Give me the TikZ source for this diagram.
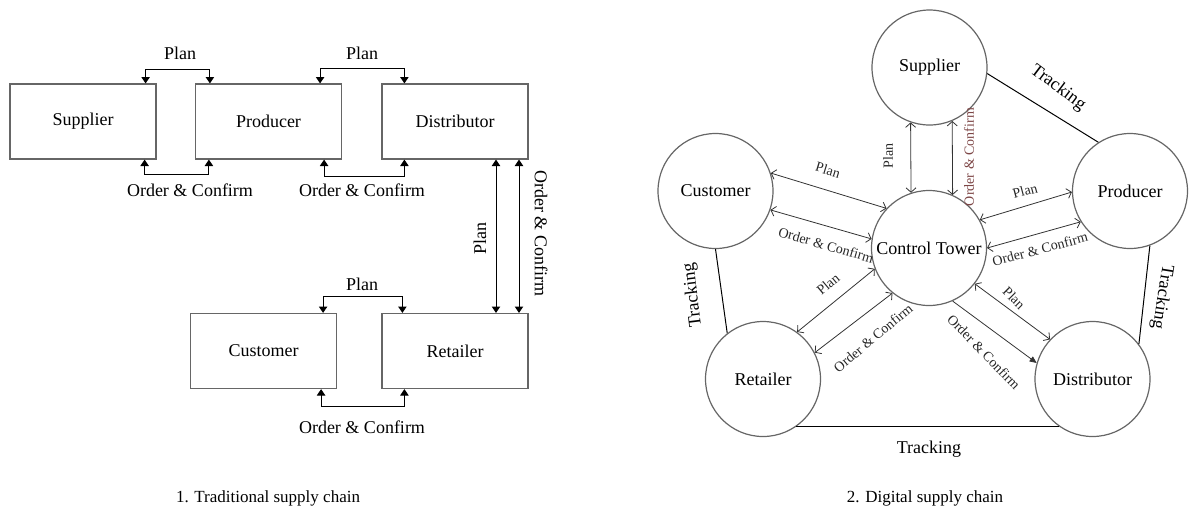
\documentclass[tikz,border=0pt]{standalone}
\usepackage{fontspec}
\setmainfont{Liberation Serif}
\usetikzlibrary{arrows.meta}
\usepackage{xcolor}
\definecolor{ocbrown}{RGB}{125,70,70}

\tikzset{
  box/.style={draw=black!60, line width=0.6pt, minimum width=73pt, minimum height=37.5pt, inner sep=0pt, font=\fontsize{9}{11}\selectfont},
  hub/.style={circle, draw=black!60, line width=0.6pt, minimum size=57.5pt, inner sep=0pt, font=\fontsize{9}{11}\selectfont},
  flow/.style={line width=0.5pt, {Triangle[length=3.2pt,width=4.2pt]}-{Triangle[length=3.2pt,width=4.2pt]}},
  link/.style={black!80, line width=0.4pt, {Straight Barb[length=2.2pt,width=5pt]}-{Straight Barb[length=2.2pt,width=5pt]}},
  track/.style={line width=0.5pt},
  lbl/.style={font=\fontsize{9}{11}\selectfont, inner sep=0pt},
  small/.style={font=\fontsize{7}{8}\selectfont, inner sep=0pt, black!85},
  caption/.style={font=\fontsize{8.5}{10}\selectfont, inner sep=0pt},
}

\begin{document}
\begin{tikzpicture}[x=0.5pt, y=-0.5pt]
\useasboundingbox (0,0) rectangle (1189,511);

% traditional chain
\node[box] (sup) at (83,121.5) {Supplier};
\node[box] (pro) at (268.5,121.5) {Producer};
\node[box] (dis) at (455,121.5) {Distributor};
\node[box] (cus) at (263.5,351) {Customer};
\node[box] (ret) at (455,351) {Retailer};

\draw[flow] ([xshift=-5.5pt]sup.north east) -- ++(0,-14) -| ([xshift=7.5pt]pro.north west);
\draw[flow] ([xshift=-6pt]sup.south east) -- ++(0,15) -| ([xshift=7pt]pro.south west);
\draw[flow] ([xshift=-11pt]pro.north east) -- ++(0,-15) -| ([xshift=11.5pt]dis.north west);
\draw[flow] ([xshift=-9pt]pro.south east) -- ++(0,17) -| ([xshift=11.5pt]dis.south west);
\draw[flow] ([xshift=-7pt]cus.north east) -- ++(0,-16) -| ([xshift=10.5pt]ret.north west);
\draw[flow] ([xshift=-8pt]cus.south east) -- ++(0,17) -| ([xshift=11.5pt]ret.south west);
\draw[flow] ([xshift=20.5pt]dis.south) -- ([xshift=20.5pt]ret.north);
\draw[flow] ([xshift=32pt]dis.south) -- ([xshift=32pt]ret.north);

\node[lbl] (p1) at (180,53) {Plan};
\node[lbl] (p2) at (362,53) {Plan};
\node[lbl] (o1) at (190,190) {Order \& Confirm};
\node[lbl] (o2) at (362,190) {Order \& Confirm};
\node[lbl] (p3) at (362,284) {Plan};
\node[lbl] (o3) at (362,427) {Order \& Confirm};
\node[lbl, rotate=90] (p4) at (480,238) {Plan};
\node[lbl, rotate=-90] (o4) at (541,233) {Order \& Confirm};
\node[caption] (cap1) at (268,498) {1. Traditional supply chain};

% digital chain
\node[hub] (rsup) at (929.5,67.5) {Supplier};
\node[hub] (rcus) at (715.5,191) {Customer};
\node[hub] (rpro) at (1130,191) {Producer};
\node[hub] (tower) at (929,248) {Control Tower};
\node[hub] (rret) at (763,379) {Retailer};
\node[hub] (rdis) at (1092.5,379) {Distributor};

\draw[link] (tower.108) -- (rsup.251);
\draw[link] (tower.66) -- (rsup.293);
\draw[link] (rcus.18) -- (tower.137);
\draw[link] (rcus.341) -- (tower.171);
\draw[link] (tower.29) -- (rpro.181);
\draw[link] (tower.0) -- (rpro.212);
\draw[link] (rret.54) -- (tower.201);
\draw[link] (rret.27) -- (tower.231);
\draw[link] (tower.322) -- (rdis.137);
\draw[link, -{Triangle[length=3.5pt,width=3pt]}] (tower.294) -- (rdis.164);

\draw[track] (rsup.354) -- (rpro.123);
\draw[track] (rcus.270) -- (rret.128);
\draw[track] (rpro.290) -- (rdis.37);
\draw[track] (rret.305) -- (rdis.235);

\node[small, rotate=90] (lp1) at (888,156) {Plan};
\node[small, rotate=90, ocbrown] (lo1) at (969,157) {Order \& Confirm};
\node[small, rotate=-17] (lp2) at (828,170) {Plan};
\node[small, rotate=-16] (lo2) at (826,245) {Order \& Confirm};
\node[small, rotate=15] (lp3) at (1025,191) {Plan};
\node[small, rotate=15] (lo3) at (1040,249) {Order \& Confirm};
\node[small, rotate=40] (lp4) at (828,284) {Plan};
\node[small, rotate=40] (lo4) at (873,338) {Order \& Confirm};
\node[small, rotate=-45] (lp5) at (1014,298) {Plan};
\node[small, rotate=-46] (lo5) at (984,352) {Order \& Confirm};

\node[lbl, rotate=-37] (t1) at (1058,88) {Tracking};
\node[lbl, rotate=97] (t2) at (693,295) {Tracking};
\node[lbl, rotate=-99] (t3) at (1162,297) {Tracking};
\node[lbl] (t4) at (929,449) {Tracking};
\node[caption] (cap2) at (925,498) {2. Digital supply chain};
\end{tikzpicture}
\end{document}
